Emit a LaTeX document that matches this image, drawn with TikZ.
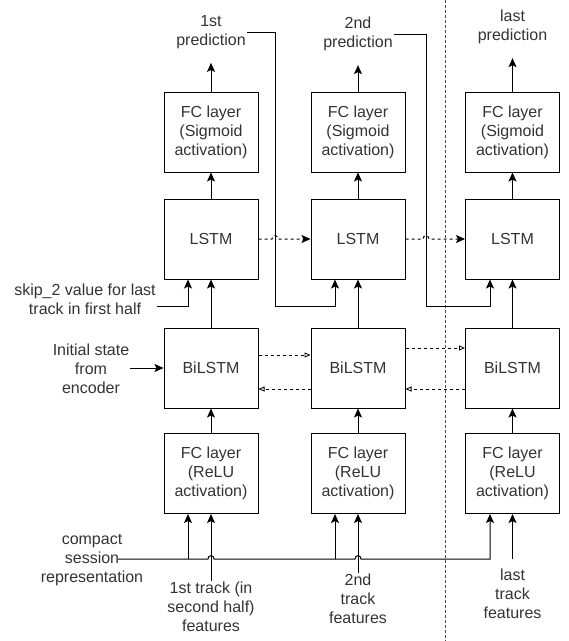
\documentclass[tikz,border=0pt]{standalone}
\usepackage{fontspec}
\setmainfont{Liberation Sans}
\usetikzlibrary{arrows.meta}
\definecolor{txtgray}{HTML}{333333}

\tikzset{
  layer/.style={draw, line width=1pt, minimum width=94pt, minimum height=80pt,
    align=center, text=txtgray, font=\fontsize{16pt}{19pt}\selectfont},
  lbl/.style={align=center, text=txtgray, inner sep=1pt, font=\fontsize{16pt}{19pt}\selectfont},
  flow/.style={line width=1pt, -{Stealth[length=9pt,width=8pt,inset=2pt]}},
  recur/.style={line width=1pt, dash pattern=on 3pt off 3pt, -{Stealth[length=9pt,width=8pt,inset=2pt]}},
  birecur/.style={line width=0.8pt, dash pattern=on 3pt off 3pt, -{Triangle[open,length=6pt,width=5pt]}}
}

\begin{document}
\begin{tikzpicture}[x=1pt,y=-1pt]
\useasboundingbox (0,0) rectangle (569,641);

\node[layer] (fcs1) at (211,132) {FC layer\\(Sigmoid\\activation)};
\node[layer] (fcs2) at (358,132) {FC layer\\(Sigmoid\\activation)};
\node[layer] (fcs3) at (512.5,132) {FC layer\\(Sigmoid\\activation)};

\node[layer] (lstm1) at (211,239) {LSTM};
\node[layer] (lstm2) at (358,239) {LSTM};
\node[layer] (lstm3) at (512.5,239) {LSTM};

\node[layer] (bil1) at (211,368) {BiLSTM};
\node[layer] (bil2) at (358,368) {BiLSTM};
\node[layer] (bil3) at (512.5,368) {BiLSTM};

\node[layer] (fcr1) at (211,473.5) {FC layer\\(ReLU\\activation)};
\node[layer] (fcr2) at (358,473.5) {FC layer\\(ReLU\\activation)};
\node[layer] (fcr3) at (512.5,473.5) {FC layer\\(ReLU\\activation)};

\node[lbl] (pred1) at (211,32) {1st\\prediction};
\node[lbl] (pred2) at (358,34) {2nd\\prediction};
\node[lbl] (pred3) at (512.5,27) {last\\prediction};

\node[lbl] (skip) at (85,299.5) {skip\_2 value for last\\track in first half};
\node[lbl] (init) at (91,369) {Initial state\\from\\encoder};
\node[lbl] (compact) at (92,560) {compact\\session\\representation};

\node[lbl] (trk1) at (211,607) {1st track (in\\second half)\\features};
\node[lbl] (trk2) at (358,599) {2nd\\track\\features};
\node[lbl] (trk3) at (512.5,594) {last\\track\\features};

\coordinate (bus) at (118,559);

% divider
\draw[line width=0.8pt, dash pattern=on 3pt off 2pt, black!70] (445,0) -- (445,641);

% vertical flow
\foreach \i in {1,2,3} {
  \draw[flow] (fcr\i) -- (bil\i);
  \draw[flow] (bil\i) -- (lstm\i);
  \draw[flow] (lstm\i) -- (fcs\i);
  \draw[flow, shorten >=13pt] (fcs\i.north) -- (pred\i.south);
}
\draw[flow] (trk1.north) -- (fcr1.south);
\draw[flow] (trk2.north) -- (fcr2.south);
\draw[flow] (trk3.north |- bus) -- (fcr3.south);

% predictions fed back
\draw[flow] (pred1.east) -| (275,306) -| ([xshift=-23pt]lstm2.south);
\draw[flow] (pred2.east) -| (426,306) -| ([xshift=-22.5pt]lstm3.south);
\draw[flow] ([yshift=-6.5pt]skip.east) -| ([xshift=-23pt]lstm1.south);

\draw[flow] (init.east |- bil1.west) -- (bil1.west);

% recurrent links
\draw[recur] (lstm1.east) -- (272,239) .. controls (272,234.5) and (278,234.5) .. (278,239) -- (lstm2.west);
\draw[recur] (lstm2.east) -- (423,239) .. controls (423,234.5) and (429,234.5) .. (429,239) -- (lstm3.west);

\draw[birecur] ([yshift=13pt]bil1.east) -- ([yshift=13pt]bil2.west);
\draw[birecur] ([yshift=-21pt]bil2.west) -- ([yshift=-21pt]bil1.east);
\draw[birecur] ([yshift=20pt]bil2.east) -- ([yshift=20pt]bil3.west);
\draw[birecur] ([yshift=-21pt]bil3.west) -- ([yshift=-21pt]bil2.east);

% session representation bus
\draw[flow] (bus) -- (208,559) .. controls (208,554.5) and (214,554.5) .. (214,559)
  -- (355,559) .. controls (355,554.5) and (361,554.5) .. (361,559)
  -| ([xshift=-22.5pt]fcr3.south);
\draw[flow] ([xshift=-23pt]fcr1.south |- bus) -- ([xshift=-23pt]fcr1.south);
\draw[flow] ([xshift=-23pt]fcr2.south |- bus) -- ([xshift=-23pt]fcr2.south);
\end{tikzpicture}
\end{document}
